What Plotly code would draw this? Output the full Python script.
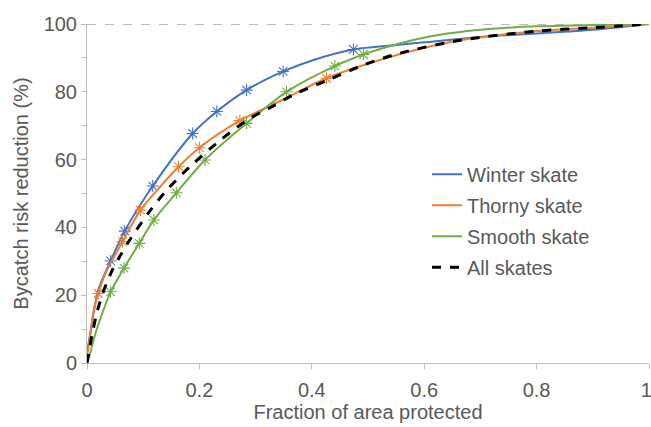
import plotly.graph_objects as go

# ---------------- data ----------------
winter_x = [0, 0.005, 0.02, 0.042, 0.067, 0.117, 0.188, 0.231, 0.284, 0.349,
            0.403, 0.474, 0.55, 0.6, 0.7, 0.8, 0.9, 1.0]
winter_y = [3, 8, 21.5, 30.1, 38.9, 52.2, 67.7, 74.2, 80.5, 86.0,
            89.4, 92.5, 93.8, 94.6, 96.2, 97.2, 98.3, 100]
winter_marks = [3, 4, 5, 6, 7, 8, 9, 11]

thorny_x = [0, 0.002, 0.007, 0.012, 0.02, 0.033, 0.042, 0.063, 0.095, 0.117,
            0.163, 0.2, 0.272, 0.35, 0.426, 0.521, 0.6, 0.664, 0.8, 0.9, 1.0]
thorny_y = [2, 4, 9.7, 15.5, 20.5, 26.5, 29.5, 35.8, 45.1, 49.5,
            57.9, 63.5, 71.5, 77.8, 84.0, 89.4, 93.0, 95.2, 97.9, 98.9, 100]
thorny_marks = [4, 7, 8, 10, 11, 12, 14]

smooth_x = [0, 0.004, 0.015, 0.027, 0.042, 0.066, 0.093, 0.119, 0.159, 0.21,
            0.284, 0.355, 0.441, 0.492, 0.551, 0.61, 0.68, 0.729, 0.8, 0.9, 1.0]
smooth_y = [0, 1.9, 8.7, 14.6, 21.0, 28.0, 35.3, 42.2, 50.2, 59.9,
            70.7, 80.0, 87.6, 91.0, 94.0, 96.3, 98.0, 98.7, 99.3, 99.7, 100]
smooth_marks = [4, 5, 6, 7, 8, 9, 10, 11, 12, 13]

all_x = [0, 0.009, 0.018, 0.03, 0.045, 0.06, 0.078, 0.113, 0.142, 0.183,
         0.24, 0.29, 0.329, 0.367, 0.429, 0.492, 0.557, 0.664, 0.8, 0.9, 1.0]
all_y = [0, 8.3, 15.1, 21.5, 27.4, 31.9, 36.8, 45.1, 51.0, 57.9,
         66.1, 72.2, 75.6, 79.1, 83.5, 87.9, 91.4, 95.2, 97.9, 98.9, 100]

x_ticks = [0, 0.2, 0.4, 0.6, 0.8, 1]
x_tick_labels = ["0", "0.2", "0.4", "0.6", "0.8", "1\u00a0"]
y_ticks = [0, 20, 40, 60, 80, 100]
y_tick_labels = ["0", "20", "40", "60", "80", "100"]

# ---------------- style ----------------
FONT = "Liberation Sans, Arial, sans-serif"
TXT = "#595959"
AX = "#BFBFBF"

series = [
    ("Winter skate", winter_x, winter_y, winter_marks, "#4472C4"),
    ("Thorny skate", thorny_x, thorny_y, thorny_marks, "#ED7D31"),
    ("Smooth skate", smooth_x, smooth_y, smooth_marks, "#70AD47"),
]

fig = go.Figure()
for i, (name, xs, ys, marks, col) in enumerate(series):
    fig.add_trace(go.Scatter(
        x=xs, y=ys, mode="lines", name=name, legendgroup=f"g{i}",
        line=dict(color=col, width=2, shape="spline", smoothing=0.8),
    ))
    fig.add_trace(go.Scatter(
        x=[xs[k] for k in marks], y=[ys[k] for k in marks], mode="markers",
        showlegend=False, legendgroup=f"g{i}", cliponaxis=False,
        marker=dict(symbol="asterisk-open", size=10, color=col,
                    line=dict(color=col, width=1.1)),
    ))

fig.add_trace(go.Scatter(
    x=all_x, y=all_y, mode="lines", name="All skates", legendgroup="g3",
    line=dict(color="black", width=3, dash="dash", shape="spline", smoothing=0.8),
))

fig.add_shape(type="line", xref="paper", yref="y", x0=0, x1=1, y0=100, y1=100,
              line=dict(color="#A6A6A6", width=1.5, dash="dash"), layer="below")

fig.update_layout(
    width=651, height=427,
    margin=dict(l=87, r=2, t=24, b=64),
    paper_bgcolor="white", plot_bgcolor="white",
    font=dict(family=FONT, size=20, color=TXT),
    showlegend=True,
    legend=dict(x=0.605, y=0.614, xanchor="left", yanchor="top",
                bgcolor="rgba(0,0,0,0)", traceorder="grouped",
                tracegroupgap=2, font=dict(size=20, color=TXT)),
)
fig.update_xaxes(
    range=[0, 1], tickvals=x_ticks, ticktext=x_tick_labels, automargin=False,
    showgrid=False, zeroline=False, showline=True, linecolor=AX, linewidth=1,
    ticks="outside", ticklen=5, tickcolor=AX, ticklabelstandoff=4,
    ticklabeloverflow="allow",
    tickfont=dict(size=20, color=TXT),
    title=dict(text="Fraction of area protected", font=dict(size=20, color=TXT), standoff=4),
)
fig.update_yaxes(
    range=[0, 100], tickvals=y_ticks, ticktext=y_tick_labels, automargin=False,
    showgrid=False, zeroline=False, showline=True, linecolor=AX, linewidth=1,
    ticks="outside", ticklen=5, tickcolor=AX,
    minor=dict(tickvals=[10, 30, 50, 70, 90], ticks="outside", ticklen=5, tickcolor=AX),
    tickfont=dict(size=20, color=TXT),
    title=dict(text="Bycatch risk reduction (%)", font=dict(size=20, color=TXT), standoff=9),
)

# remove the page's default body margin so the 651x427 figure fills the window
fig.write_html(
    "out.html",
    config={"displayModeBar": False},
    post_script="document.body.style.margin='0';document.body.style.overflow='hidden';",
)
